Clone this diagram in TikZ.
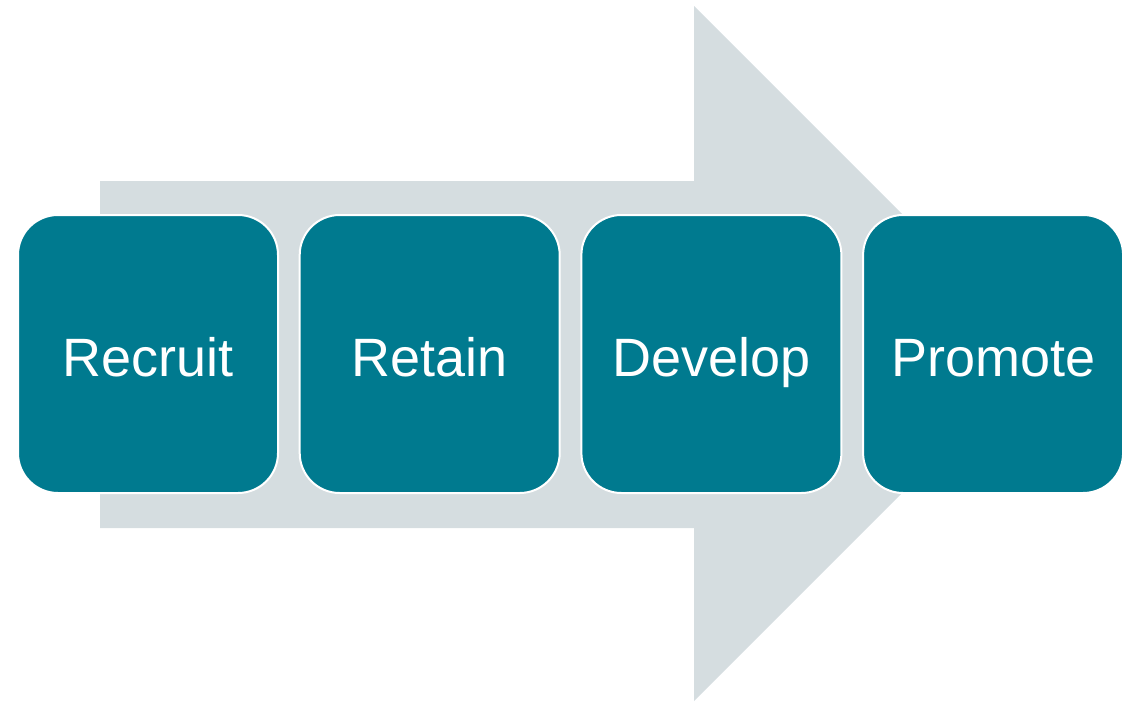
\documentclass[tikz,border=0pt]{standalone}
\usepackage{fontspec}
\setmainfont{Liberation Sans}
\usepackage{tikz}
\usetikzlibrary{positioning}

\definecolor{teal}{RGB}{0,122,143}
\definecolor{arrowgray}{RGB}{213,221,224}

\begin{document}
\begin{tikzpicture}[x=0.5pt,y=-0.5pt,node distance=9.85pt,
  stage/.style={draw=white,line width=1pt,fill=teal,text=white,rounded corners=20pt,
    minimum width=130pt,minimum height=139pt,text height=22pt,text depth=0pt,
    font=\fontsize{27}{32}\selectfont}]
\useasboundingbox (0,0) rectangle (1132,702);
% big background arrow
\fill[arrowgray] (100,181) -- (694,181) -- (694,6) -- (1041.5,353.5) -- (694,701) -- (694,528) -- (100,528) -- cycle;

\node[stage] (recruit) at (148,354) {Recruit};
\node[stage,right=of recruit] (retain) {Retain};
\node[stage,right=of retain] (develop) {Develop};
\node[stage,right=of develop] (promote) {Promote};
\end{tikzpicture}
\end{document}
